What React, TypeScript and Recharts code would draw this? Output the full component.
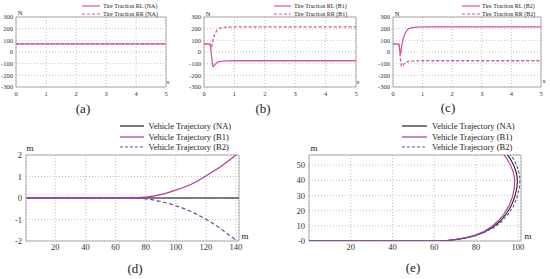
import React from 'react';
import { LineChart, Line, XAxis, YAxis, CartesianGrid, ReferenceArea } from 'recharts';

const FONT = '"Liberation Serif", "Times New Roman", serif';
const PINK = '#cf56a9';
const NA_COLOR = '#222222';
const B1_COLOR = '#a83a9c';
const B2_COLOR = '#6b4f9e';

// top row: tire traction [N] over time [s]
const timeS = [0, 0.1, 0.2, 0.22, 0.25, 0.28, 0.3, 0.35, 0.4, 0.45, 0.5, 0.6, 0.8, 1, 2, 3, 4, 5];
const rlNA = [70, 70, 70, 70, 70, 70, 70, 70, 70, 70, 70, 70, 70, 70, 70, 70, 70, 70];
const rrNA = [70, 70, 70, 70, 70, 70, 70, 70, 70, 70, 70, 70, 70, 70, 70, 70, 70, 70];
const rlB1 = [70, 70, 65, 40, -40, -110, -125, -112, -96, -87, -82, -78, -76, -75, -75, -75, -75, -75];
const rrB1 = [70, 70, 65, 50, 40, 80, 110, 150, 175, 192, 202, 210, 214, 215, 215, 215, 215, 215];
const rlB2 = [70, 70, 65, 30, -20, 20, 60, 120, 155, 180, 195, 207, 214, 215, 215, 215, 215, 215];
const rrB2 = [70, 70, 65, 30, -60, -120, -125, -110, -95, -87, -82, -78, -76, -75, -75, -75, -75, -75];
const timeTicks = [0, 1, 2, 3, 4, 5];
const tractionTicks = [-300, -200, -100, 0, 100, 200, 300];
const legendNA = ['Tire Traction RL (NA)', 'Tire Traction RR (NA)'];
const legendB1 = ['Tire Traction RL (B1)', 'Tire Traction RR (B1)'];
const legendB2 = ['Tire Traction RL (B2)', 'Tire Traction RR (B2)'];

// (d) lateral offset [m] over distance [m]
const distD = [1, 10, 20, 30, 40, 50, 60, 70, 75, 80, 85, 90, 95, 100, 105, 110, 115, 120, 125, 130, 135, 140, 142];
const naD = [0, 0, 0, 0, 0, 0, 0, 0, 0, 0, 0, 0, 0, 0, 0, 0, 0, 0, 0, 0, 0, 0, 0];
const b1D = [0, 0, 0, 0, 0, 0, 0, 0, 0.01, 0.04, 0.09, 0.16, 0.25, 0.37, 0.49, 0.63, 0.81, 1.02, 1.24, 1.47, 1.73, 2.0, 2.12];
const b2D = [0, 0, 0, 0, 0, 0, 0, 0, -0.01, -0.04, -0.09, -0.16, -0.25, -0.36, -0.48, -0.62, -0.8, -0.99, -1.2, -1.44, -1.7, -1.96, -2.08];
const distTicks = [20, 40, 60, 80, 100, 120, 140];
const offsetTicks = [-2, -1, 0, 1, 2];

// (e) trajectories in the plane [m]
const naEx = [0, 62, 66, 70, 75, 80, 84, 88, 91.5, 94.5, 96.8, 98.5, 99.5, 99.8, 99.3, 98, 96.2, 94.3];
const naEy = [0, 0, 0.3, 0.9, 2, 3.8, 6, 9, 13, 18, 23, 29, 35, 40, 45, 50, 54.5, 58];
const b1Ex = [0, 62, 66, 70, 75, 80, 84, 87.5, 90.8, 93.6, 95.8, 97.4, 98.3, 98.5, 97.9, 96.5, 94.6, 92.6];
const b1Ey = [0, 0, 0.35, 1, 2.2, 4.1, 6.5, 9.6, 13.5, 18.3, 23.3, 29, 35, 40, 45, 50, 54.5, 58];
const b2Ex = [0, 62, 66, 70, 75, 80, 84, 88.3, 92.1, 95.3, 97.8, 99.6, 100.7, 101, 100.6, 99.4, 97.7, 95.8];
const b2Ey = [0, 0, 0.28, 0.85, 1.9, 3.6, 5.7, 8.7, 12.6, 17.6, 22.7, 28.7, 35, 40, 45, 50, 54.5, 58];
const planeXTicks = [20, 40, 60, 80, 100];
const planeYTicks = [0, 10, 20, 30, 40, 50];
const planeYLabels = ['-0', '10', '20', '30', '40', '50'];

const trajLegend = ['Vehicle Trajectory (NA)', 'Vehicle Trajectory (B1)', 'Vehicle Trajectory (B2)'];

const Txt = ({ x, y, size, start, children }: any) => (
  <span
    style={{
      position: 'absolute',
      left: x,
      top: y,
      transform: start ? 'translate(0,-50%)' : 'translate(-50%,-50%)',
      fontSize: size,
      fontFamily: FONT,
      lineHeight: 1,
      whiteSpace: 'nowrap',
      color: '#222',
    }}
  >
    {children}
  </span>
);

const LegendRow = ({ x1, x2, tx, y, color, dash, label, size }: any) => (
  <>
    <svg style={{ position: 'absolute', left: x1, top: y - 2 }} width={x2 - x1} height={4}>
      <line x1={0} y1={2} x2={x2 - x1} y2={2} stroke={color} strokeWidth={1.2} strokeDasharray={dash} />
    </svg>
    <Txt x={tx} y={y} size={size} start>{label}</Txt>
  </>
);

const smallTick = { fontSize: 6.5, fill: '#333', fontFamily: FONT };
const bigTick = { fontSize: 8.5, fill: '#333', fontFamily: FONT };

const TractionChart = ({ left, width, yAxisWidth, right, rl, rr }: any) => {
  const data = timeS.map((t, i) => ({ t, rl: rl[i], rr: rr[i] }));
  return (
    <div style={{ position: 'absolute', left, top: 0 }}>
      <LineChart width={width} height={100} data={data} margin={{ top: 17, right, bottom: 0, left: 0 }}>
        <CartesianGrid stroke="#c4c4c4" strokeDasharray="1 2" />
        <XAxis dataKey="t" type="number" domain={[0, 5]} ticks={timeTicks} interval={0} tickSize={0} tickMargin={4}
          axisLine={false} height={13} tick={smallTick} />
        <YAxis type="number" domain={[-300, 300]} ticks={tractionTicks} interval={0} tickSize={0} tickMargin={3}
          axisLine={false} width={yAxisWidth} tick={smallTick} />
        <ReferenceArea x1={0} x2={5} y1={-300} y2={300} fill="none" stroke="#999" strokeWidth={0.8} />
        <Line dataKey="rl" stroke={PINK} strokeWidth={1.3} dot={false} isAnimationActive={false} />
        <Line dataKey="rr" stroke={PINK} strokeWidth={1.3} strokeDasharray="3 2" dot={false} isAnimationActive={false} />
      </LineChart>
    </div>
  );
};

const OffsetChart = () => {
  const data = distD.map((x, i) => ({ x, na: naD[i], b1: b1D[i], b2: b2D[i] }));
  return (
    <div style={{ position: 'absolute', left: 0, top: 140 }}>
      <LineChart width={250} height={115} data={data} margin={{ top: 15, right: 11, bottom: 0, left: 0 }}>
        <CartesianGrid stroke="#c4c4c4" strokeDasharray="1 2" />
        <ReferenceArea x1={0.5} x2={78} y1={0} y2={0.22} fill="#fbe4f2" stroke="none" />
        <XAxis dataKey="x" type="number" domain={[0.5, 142]} ticks={distTicks} interval={0} tickSize={0} tickMargin={3}
          axisLine={false} height={14} tick={bigTick} allowDataOverflow />
        <YAxis type="number" domain={[-2, 2]} ticks={offsetTicks} interval={0} tickSize={0} tickMargin={4}
          axisLine={false} width={26} tick={bigTick} allowDataOverflow />
        <ReferenceArea x1={0.5} x2={142} y1={-2} y2={2} fill="none" stroke="#999" strokeWidth={0.8} />
        <Line dataKey="na" stroke={NA_COLOR} strokeWidth={1.4} strokeOpacity={0.75} dot={false} isAnimationActive={false} />
        <Line dataKey="b1" type="monotone" stroke={B1_COLOR} strokeWidth={1.2} dot={false} isAnimationActive={false} />
        <Line dataKey="b2" type="monotone" stroke={B2_COLOR} strokeWidth={1.2} strokeDasharray="4 2.5" dot={false} isAnimationActive={false} />
      </LineChart>
    </div>
  );
};

const PlaneChart = () => {
  const na = naEx.map((x, i) => ({ x, y: naEy[i] }));
  const b1 = b1Ex.map((x, i) => ({ x, y: b1Ey[i] }));
  const b2 = b2Ex.map((x, i) => ({ x, y: b2Ey[i] }));
  return (
    <div style={{ position: 'absolute', left: 280, top: 140 }}>
      <LineChart width={255} height={115} margin={{ top: 15, right: 14, bottom: 0, left: 0 }}>
        <CartesianGrid stroke="#c4c4c4" strokeDasharray="1 2" />
        <XAxis dataKey="x" type="number" domain={[0, 101.5]} ticks={planeXTicks} interval={0} tickSize={0} tickMargin={3}
          axisLine={false} height={14} tick={bigTick} allowDataOverflow />
        <YAxis dataKey="y" type="number" domain={[0, 56.7]} ticks={planeYTicks} interval={0} tickSize={0} tickMargin={4}
          axisLine={false} width={29} tick={bigTick} allowDataOverflow
          tickFormatter={(v: number) => planeYLabels[planeYTicks.indexOf(v)]} />
        <ReferenceArea x1={0} x2={101.5} y1={0} y2={56.7} fill="none" stroke="#999" strokeWidth={0.8} />
        <Line data={na} dataKey="y" stroke={NA_COLOR} strokeWidth={1.1} dot={false} isAnimationActive={false} />
        <Line data={b1} dataKey="y" stroke={B1_COLOR} strokeWidth={1.1} dot={false} isAnimationActive={false} />
        <Line data={b2} dataKey="y" stroke={B2_COLOR} strokeWidth={1.1} strokeDasharray="3 2" dot={false} isAnimationActive={false} />
      </LineChart>
    </div>
  );
};

const topLegend = (x1: number, x2: number, tx: number, labels: string[]) => (
  <>
    <LegendRow x1={x1} x2={x2} tx={tx} y={6} color={PINK} label={labels[0]} size={6} />
    <LegendRow x1={x1} x2={x2} tx={tx} y={14} color={PINK} dash="3 2" label={labels[1]} size={6} />
  </>
);

const bottomLegend = (x1: number, x2: number, tx: number) => (
  <>
    <LegendRow x1={x1} x2={x2} tx={tx} y={126} color={NA_COLOR} label={trajLegend[0]} size={8.5} />
    <LegendRow x1={x1} x2={x2} tx={tx} y={136.5} color={B1_COLOR} label={trajLegend[1]} size={8.5} />
    <LegendRow x1={x1} x2={x2} tx={tx} y={147} color={B2_COLOR} dash="3 2" label={trajLegend[2]} size={8.5} />
  </>
);

export default function App() {
  return (
    <div style={{ position: 'absolute', left: 0, top: 0, width: 550, height: 279, background: '#fff', overflow: 'hidden' }}>
      <TractionChart left={0} width={180} yAxisWidth={16} right={14} rl={rlNA} rr={rrNA} />
      <TractionChart left={180} width={190} yAxisWidth={24} right={14} rl={rlB1} rr={rrB1} />
      <TractionChart left={370} width={180} yAxisWidth={23} right={9} rl={rlB2} rr={rrB2} />
      <OffsetChart />
      <PlaneChart />

      {topLegend(82, 100, 103, legendNA)}
      {topLegend(274, 291, 294, legendB1)}
      {topLegend(462, 480, 482, legendB2)}
      {bottomLegend(120, 144, 148.5)}
      {bottomLegend(402, 427, 432)}

      <Txt x={20} y={13} size={6.5}>N</Txt>
      <Txt x={208} y={13.5} size={6.5}>N</Txt>
      <Txt x={397} y={13.5} size={6.5}>N</Txt>
      <Txt x={168} y={82} size={6.5}>s</Txt>
      <Txt x={358} y={82} size={6.5}>s</Txt>
      <Txt x={544} y={81} size={6.5}>s</Txt>
      <Txt x={30} y={147.5} size={9}>m</Txt>
      <Txt x={245} y={236} size={9}>m</Txt>
      <Txt x={314} y={147.5} size={9}>m</Txt>
      <Txt x={528} y={236} size={9}>m</Txt>

      <Txt x={83} y={108} size={13}>(a)</Txt>
      <Txt x={263} y={107.5} size={13}>(b)</Txt>
      <Txt x={448} y={107} size={13}>(c)</Txt>
      <Txt x={135} y={267.5} size={13}>(d)</Txt>
      <Txt x={413} y={267} size={13}>(e)</Txt>
    </div>
  );
}
